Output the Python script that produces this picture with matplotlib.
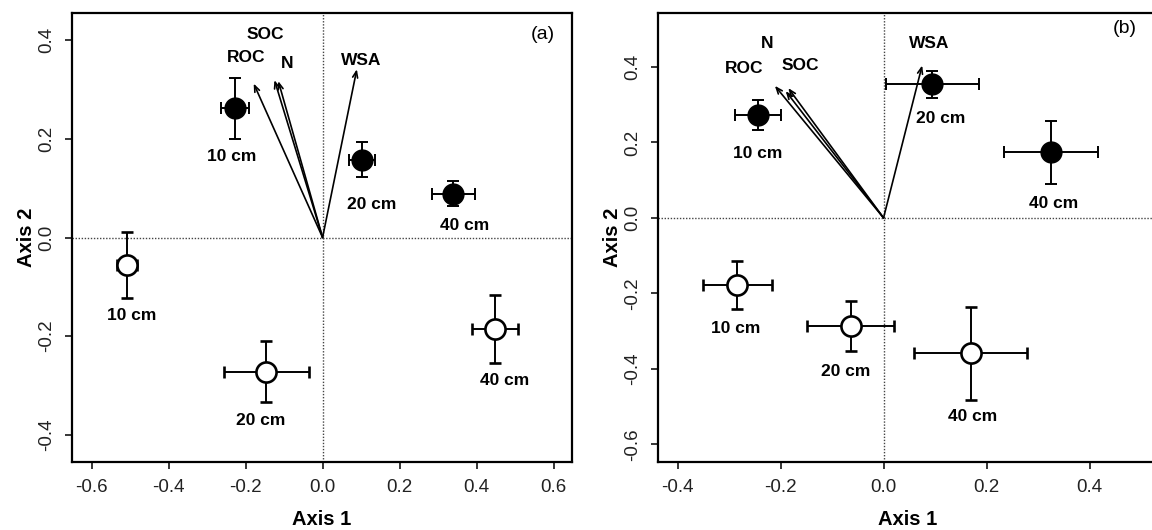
import matplotlib
matplotlib.use("Agg")
import matplotlib.pyplot as plt
import numpy as np

plt.rcParams['font.family'] = ['Liberation Sans', 'DejaVu Sans']

# Panel (a): depth group means (filled / open) with standard errors
depths = ['10 cm', '20 cm', '40 cm']

a_fill_x = [-0.228, 0.102, 0.340]
a_fill_y = [0.262, 0.158, 0.089]
a_fill_xerr = [0.037, 0.033, 0.057]
a_fill_yerr = [0.062, 0.035, 0.026]
a_fill_lab_x = [-0.235, 0.128, 0.368]
a_fill_lab_y = [0.164, 0.067, 0.025]

a_open_x = [-0.508, -0.146, 0.448]
a_open_y = [-0.056, -0.272, -0.186]
a_open_xerr = [0.025, 0.111, 0.060]
a_open_yerr = [0.067, 0.062, 0.069]
a_open_lab_x = [-0.495, -0.162, 0.474]
a_open_lab_y = [-0.159, -0.371, -0.290]

# soil variable vectors
variables = ['ROC', 'SOC', 'N', 'WSA']
a_vec_x = [-0.179, -0.125, -0.115, 0.089]
a_vec_y = [0.312, 0.319, 0.317, 0.341]
a_vec_lab_x = [-0.198, -0.150, -0.093, 0.099]
a_vec_lab_y = [0.364, 0.411, 0.353, 0.359]

# Panel (b)
b_fill_x = [-0.244, 0.095, 0.325]
b_fill_y = [0.272, 0.354, 0.174]
b_fill_xerr = [0.044, 0.090, 0.092]
b_fill_yerr = [0.040, 0.035, 0.083]
b_fill_lab_x = [-0.245, 0.111, 0.331]
b_fill_lab_y = [0.170, 0.263, 0.039]

b_open_x = [-0.284, -0.064, 0.169]
b_open_y = [-0.178, -0.286, -0.359]
b_open_xerr = [0.067, 0.084, 0.110]
b_open_yerr = [0.064, 0.067, 0.123]
b_open_lab_x = [-0.288, -0.073, 0.173]
b_open_lab_y = [-0.293, -0.406, -0.527]

b_vec_x = [-0.211, -0.185, -0.190, 0.075]
b_vec_y = [0.350, 0.344, 0.336, 0.404]
b_vec_lab_x = [-0.271, -0.162, -0.226, 0.088]
b_vec_lab_y = [0.396, 0.403, 0.463, 0.461]

W, H = 1152, 530
fig = plt.figure(figsize=(W / 100, H / 100), dpi=100)


def px_axes(left, right, top, bottom):
    return fig.add_axes([left / W, 1 - bottom / H, (right - left) / W, (bottom - top) / H])


def draw_panel(ax, fx, fy, fxe, fye, flx, fly, ox, oy, oxe, oye, olx, oly,
               vx, vy, vlx, vly, xlim, ylim, xticks, yticks, tag, tag_xy):
    ax.set_xlim(*xlim)
    ax.set_ylim(*ylim)
    dot = dict(color='#444444', lw=1.0, ls=(0, (1, 1.2)), zorder=1)
    ax.axhline(0, **dot)
    ax.axvline(0, **dot)

    # biplot arrows from the origin
    for x, y in zip(vx, vy):
        ax.annotate('', xy=(x, y), xytext=(0, 0),
                    arrowprops=dict(arrowstyle='->,head_length=0.45,head_width=0.18',
                                    lw=1.2, color='black', shrinkA=0, shrinkB=0),
                    zorder=2)
    for name, x, y in zip(variables, vlx, vly):
        ax.text(x, y, name, ha='center', va='center', fontsize=12.5,
                fontweight='bold')

    ebar = dict(fmt='o', ecolor='black', elinewidth=1.4, capsize=4,
                capthick=1.4, zorder=3)
    ax.errorbar(fx, fy, xerr=fxe, yerr=fye, mfc='black', mec='black',
                ms=15, **ebar)
    ax.errorbar(ox, oy, xerr=oxe, yerr=oye, mfc='white', mec='black',
                mew=1.9, ms=14.5, **ebar)

    for d, x, y in zip(depths, flx, fly):
        ax.text(x, y, d, ha='center', va='center', fontsize=12.5, fontweight='bold')
    for d, x, y in zip(depths, olx, oly):
        ax.text(x, y, d, ha='center', va='center', fontsize=12.5, fontweight='bold')

    ax.text(tag_xy[0], tag_xy[1], tag, ha='center', va='center', fontsize=14)

    ax.set_xticks(xticks)
    ax.set_yticks(yticks)
    ax.set_xticklabels([f'{t:.1f}' for t in xticks])
    ax.set_yticklabels([f'{t:.1f}' for t in yticks], rotation=90, va='center')
    ax.tick_params(direction='out', length=5, width=1.1, labelsize=13.5,
                   labelcolor='#222222', pad=7)
    ax.tick_params(axis='y', pad=7)
    for s in ax.spines.values():
        s.set_linewidth(1.6)
    ax.set_xlabel('Axis 1', fontsize=14.5, fontweight='bold', labelpad=10)
    ax.set_ylabel('Axis 2', fontsize=14.5, fontweight='bold', labelpad=2)


ax_a = px_axes(72, 572, 13, 462)
draw_panel(ax_a, a_fill_x, a_fill_y, a_fill_xerr, a_fill_yerr, a_fill_lab_x, a_fill_lab_y,
           a_open_x, a_open_y, a_open_xerr, a_open_yerr, a_open_lab_x, a_open_lab_y,
           a_vec_x, a_vec_y, a_vec_lab_x, a_vec_lab_y,
           (-0.651, 0.648), (-0.455, 0.455),
           np.arange(-0.6, 0.61, 0.2), np.arange(-0.4, 0.41, 0.2),
           '(a)', (0.572, 0.411))

ax_b = px_axes(658, 1158, 13, 462)
draw_panel(ax_b, b_fill_x, b_fill_y, b_fill_xerr, b_fill_yerr, b_fill_lab_x, b_fill_lab_y,
           b_open_x, b_open_y, b_open_xerr, b_open_yerr, b_open_lab_x, b_open_lab_y,
           b_vec_x, b_vec_y, b_vec_lab_x, b_vec_lab_y,
           (-0.438, 0.533), (-0.647, 0.543),
           np.arange(-0.4, 0.41, 0.2), np.arange(-0.6, 0.41, 0.2),
           '(b)', (0.468, 0.501))

fig.savefig('out.png', dpi=100)
